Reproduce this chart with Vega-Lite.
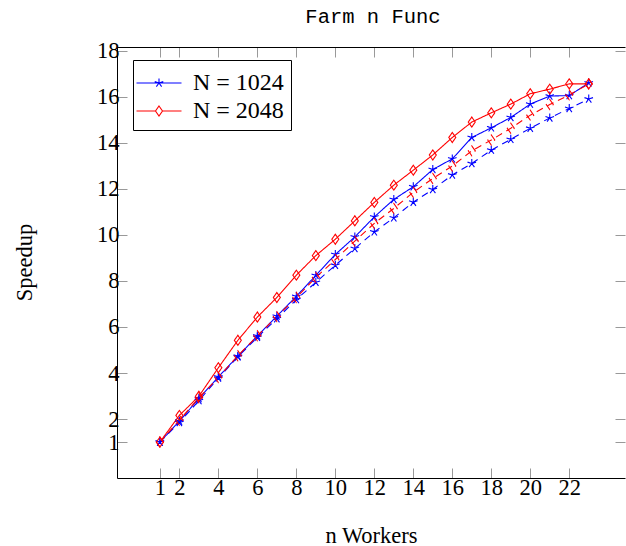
{
  "$schema": "https://vega.github.io/schema/vega-lite/v6.json",
  "width": 508,
  "height": 431,
  "autosize": {"type": "none"},
  "padding": {"left": 117, "top": 47, "right": 1, "bottom": 68},
  "background": "white",
  "title": {"text": "Farm n Func", "font": "Liberation Mono", "fontSize": 20.5, "fontWeight": "normal", "color": "black", "anchor": "middle", "offset": 12, "dx": 2},
  "config": {
    "view": {"stroke": null},
    "axis": {"labelFont": "Liberation Serif", "labelFontSize": 22.5, "labelColor": "black", "titleFont": "Liberation Serif", "titleFontSize": 22.5, "titleFontWeight": "normal", "titleColor": "black", "tickColor": "#999999", "tickWidth": 1, "domainColor": "black", "domainWidth": 1, "grid": false}
  },
  "data": {"values": [
    {"workers":1,"speedup":1.0,"N":"N = 1024","style":"solid"},
    {"workers":2,"speedup":1.91,"N":"N = 1024","style":"solid"},
    {"workers":3,"speedup":2.89,"N":"N = 1024","style":"solid"},
    {"workers":4,"speedup":3.83,"N":"N = 1024","style":"solid"},
    {"workers":5,"speedup":4.73,"N":"N = 1024","style":"solid"},
    {"workers":6,"speedup":5.61,"N":"N = 1024","style":"solid"},
    {"workers":7,"speedup":6.47,"N":"N = 1024","style":"solid"},
    {"workers":8,"speedup":7.33,"N":"N = 1024","style":"solid"},
    {"workers":9,"speedup":8.24,"N":"N = 1024","style":"solid"},
    {"workers":10,"speedup":9.15,"N":"N = 1024","style":"solid"},
    {"workers":11,"speedup":9.91,"N":"N = 1024","style":"solid"},
    {"workers":12,"speedup":10.78,"N":"N = 1024","style":"solid"},
    {"workers":13,"speedup":11.54,"N":"N = 1024","style":"solid"},
    {"workers":14,"speedup":12.09,"N":"N = 1024","style":"solid"},
    {"workers":15,"speedup":12.84,"N":"N = 1024","style":"solid"},
    {"workers":16,"speedup":13.3,"N":"N = 1024","style":"solid"},
    {"workers":17,"speedup":14.23,"N":"N = 1024","style":"solid"},
    {"workers":18,"speedup":14.65,"N":"N = 1024","style":"solid"},
    {"workers":19,"speedup":15.1,"N":"N = 1024","style":"solid"},
    {"workers":20,"speedup":15.68,"N":"N = 1024","style":"solid"},
    {"workers":21,"speedup":16.03,"N":"N = 1024","style":"solid"},
    {"workers":22,"speedup":16.05,"N":"N = 1024","style":"solid"},
    {"workers":23,"speedup":16.6,"N":"N = 1024","style":"solid"},
    {"workers":1,"speedup":1.0,"N":"N = 2048","style":"solid"},
    {"workers":2,"speedup":2.16,"N":"N = 2048","style":"solid"},
    {"workers":3,"speedup":2.99,"N":"N = 2048","style":"solid"},
    {"workers":4,"speedup":4.23,"N":"N = 2048","style":"solid"},
    {"workers":5,"speedup":5.42,"N":"N = 2048","style":"solid"},
    {"workers":6,"speedup":6.43,"N":"N = 2048","style":"solid"},
    {"workers":7,"speedup":7.28,"N":"N = 2048","style":"solid"},
    {"workers":8,"speedup":8.25,"N":"N = 2048","style":"solid"},
    {"workers":9,"speedup":9.1,"N":"N = 2048","style":"solid"},
    {"workers":10,"speedup":9.81,"N":"N = 2048","style":"solid"},
    {"workers":11,"speedup":10.61,"N":"N = 2048","style":"solid"},
    {"workers":12,"speedup":11.41,"N":"N = 2048","style":"solid"},
    {"workers":13,"speedup":12.16,"N":"N = 2048","style":"solid"},
    {"workers":14,"speedup":12.81,"N":"N = 2048","style":"solid"},
    {"workers":15,"speedup":13.47,"N":"N = 2048","style":"solid"},
    {"workers":16,"speedup":14.23,"N":"N = 2048","style":"solid"},
    {"workers":17,"speedup":14.9,"N":"N = 2048","style":"solid"},
    {"workers":18,"speedup":15.3,"N":"N = 2048","style":"solid"},
    {"workers":19,"speedup":15.68,"N":"N = 2048","style":"solid"},
    {"workers":20,"speedup":16.13,"N":"N = 2048","style":"solid"},
    {"workers":21,"speedup":16.33,"N":"N = 2048","style":"solid"},
    {"workers":22,"speedup":16.56,"N":"N = 2048","style":"solid"},
    {"workers":23,"speedup":16.56,"N":"N = 2048","style":"solid"},
    {"workers":1,"speedup":1.0,"N":"N = 1024","style":"dashed"},
    {"workers":2,"speedup":1.85,"N":"N = 1024","style":"dashed"},
    {"workers":3,"speedup":2.8,"N":"N = 1024","style":"dashed"},
    {"workers":4,"speedup":3.78,"N":"N = 1024","style":"dashed"},
    {"workers":5,"speedup":4.7,"N":"N = 1024","style":"dashed"},
    {"workers":6,"speedup":5.55,"N":"N = 1024","style":"dashed"},
    {"workers":7,"speedup":6.36,"N":"N = 1024","style":"dashed"},
    {"workers":8,"speedup":7.19,"N":"N = 1024","style":"dashed"},
    {"workers":9,"speedup":7.94,"N":"N = 1024","style":"dashed"},
    {"workers":10,"speedup":8.68,"N":"N = 1024","style":"dashed"},
    {"workers":11,"speedup":9.41,"N":"N = 1024","style":"dashed"},
    {"workers":12,"speedup":10.13,"N":"N = 1024","style":"dashed"},
    {"workers":13,"speedup":10.74,"N":"N = 1024","style":"dashed"},
    {"workers":14,"speedup":11.42,"N":"N = 1024","style":"dashed"},
    {"workers":15,"speedup":11.97,"N":"N = 1024","style":"dashed"},
    {"workers":16,"speedup":12.6,"N":"N = 1024","style":"dashed"},
    {"workers":17,"speedup":13.1,"N":"N = 1024","style":"dashed"},
    {"workers":18,"speedup":13.68,"N":"N = 1024","style":"dashed"},
    {"workers":19,"speedup":14.15,"N":"N = 1024","style":"dashed"},
    {"workers":20,"speedup":14.63,"N":"N = 1024","style":"dashed"},
    {"workers":21,"speedup":15.08,"N":"N = 1024","style":"dashed"},
    {"workers":22,"speedup":15.49,"N":"N = 1024","style":"dashed"},
    {"workers":23,"speedup":15.9,"N":"N = 1024","style":"dashed"},
    {"workers":1,"speedup":1.0,"N":"N = 2048","style":"dashed"},
    {"workers":2,"speedup":1.95,"N":"N = 2048","style":"dashed"},
    {"workers":3,"speedup":2.92,"N":"N = 2048","style":"dashed"},
    {"workers":4,"speedup":3.8,"N":"N = 2048","style":"dashed"},
    {"workers":5,"speedup":4.75,"N":"N = 2048","style":"dashed"},
    {"workers":6,"speedup":5.62,"N":"N = 2048","style":"dashed"},
    {"workers":7,"speedup":6.45,"N":"N = 2048","style":"dashed"},
    {"workers":8,"speedup":7.28,"N":"N = 2048","style":"dashed"},
    {"workers":9,"speedup":8.15,"N":"N = 2048","style":"dashed"},
    {"workers":10,"speedup":8.93,"N":"N = 2048","style":"dashed"},
    {"workers":11,"speedup":9.73,"N":"N = 2048","style":"dashed"},
    {"workers":12,"speedup":10.5,"N":"N = 2048","style":"dashed"},
    {"workers":13,"speedup":11.15,"N":"N = 2048","style":"dashed"},
    {"workers":14,"speedup":11.85,"N":"N = 2048","style":"dashed"},
    {"workers":15,"speedup":12.45,"N":"N = 2048","style":"dashed"},
    {"workers":16,"speedup":12.99,"N":"N = 2048","style":"dashed"},
    {"workers":17,"speedup":13.65,"N":"N = 2048","style":"dashed"},
    {"workers":18,"speedup":14.12,"N":"N = 2048","style":"dashed"},
    {"workers":19,"speedup":14.63,"N":"N = 2048","style":"dashed"},
    {"workers":20,"speedup":15.2,"N":"N = 2048","style":"dashed"},
    {"workers":21,"speedup":15.66,"N":"N = 2048","style":"dashed"},
    {"workers":22,"speedup":16.08,"N":"N = 2048","style":"dashed"},
    {"workers":23,"speedup":16.55,"N":"N = 2048","style":"dashed"}
  ]},
  "layer": [
    {
      "mark": {"type": "line", "strokeWidth": 1.1},
      "encoding": {
        "x": {"field": "workers", "type": "quantitative", "scale": {"domain": [-1.2, 24.86], "nice": false, "zero": false},
              "axis": {"orient": "bottom", "values": [1,2,4,6,8,10,12,14,16,18,20,22], "tickSize": -10, "labelPadding": 8, "title": "n Workers", "titleY": 57, "titleBaseline": "middle", "domain": true}},
        "y": {"field": "speedup", "type": "quantitative", "scale": {"domain": [-0.56, 18.16], "nice": false, "zero": false},
              "axis": {"orient": "left", "values": [1,2,4,6,8,10,12,14,16,18], "tickSize": -10, "labelPadding": 8, "title": "Speedup", "titleX": -93, "titleY": 215, "titleAngle": -90, "titleAlign": "center", "titleBaseline": "middle", "domain": true}},
        "color": {"field": "N", "type": "nominal", "scale": {"domain": ["N = 1024", "N = 2048"], "range": ["#0000ff", "#ff0000"]},
                  "legend": {"orient": "none", "legendX": 16, "legendY": 13, "title": null, "fillColor": "white", "strokeColor": "black", "padding": 7, "symbolSize": 900, "symbolStrokeWidth": 1.1, "labelFont": "Liberation Serif", "labelFontSize": 24, "labelColor": "black", "labelOffset": 21, "rowPadding": 0,
                             "encode": {"symbols": {"update": {"shape": {"signal": "datum.value === 'N = 1024' ? 'M-1.3,0L1.7,0M0.2,0L0.2,-0.3M0.2,0L0.485,-0.093M0.2,0L0.376,0.243M0.2,0L0.024,0.243M0.2,0L-0.085,-0.093' : 'M-1.3,0L-0.033,0M0.433,0L1.7,0M0.2,-0.333L0.433,0L0.2,0.333L-0.033,0Z'"}, "fill": {"value": "transparent"}}}}}},
        "detail": {"field": "style", "type": "nominal"},
        "strokeDash": {"field": "style", "type": "nominal", "scale": {"domain": ["solid", "dashed"], "range": [[1, 0], [7, 5]]}, "legend": null}
      }
    },
    {
      "transform": [{"filter": "datum.N === 'N = 1024'"}],
      "mark": {"type": "point", "filled": false, "strokeWidth": 1.1, "opacity": 1, "size": 100, "color": "#0000ff", "shape": "M0,0L0,-0.9M0,0L0.856,-0.278M0,0L0.529,0.728M0,0L-0.529,0.728M0,0L-0.856,-0.278"},
      "encoding": {
        "x": {"field": "workers", "type": "quantitative", "axis": {"orient": "top", "values": [1,2,4,6,8,10,12,14,16,18,20,22], "tickSize": -10, "labels": false, "title": null, "domain": true}},
        "y": {"field": "speedup", "type": "quantitative", "axis": {"orient": "right", "values": [1,2,4,6,8,10,12,14,16,18], "tickSize": -10, "labels": false, "title": null, "domain": false}},
        "strokeDash": {"field": "style", "type": "nominal", "legend": null}
      }
    },
    {
      "transform": [{"filter": "datum.N === 'N = 2048'"}],
      "mark": {"type": "point", "filled": false, "strokeWidth": 1.1, "opacity": 1, "size": 100, "color": "#ff0000", "shape": "M0,-1L0.7,0L0,1L-0.7,0Z"},
      "encoding": {
        "x": {"field": "workers", "type": "quantitative", "axis": null},
        "y": {"field": "speedup", "type": "quantitative", "axis": null},
        "strokeDash": {"field": "style", "type": "nominal", "legend": null}
      }
    }
  ],
  "resolve": {"axis": {"x": "independent", "y": "independent"}}
}
